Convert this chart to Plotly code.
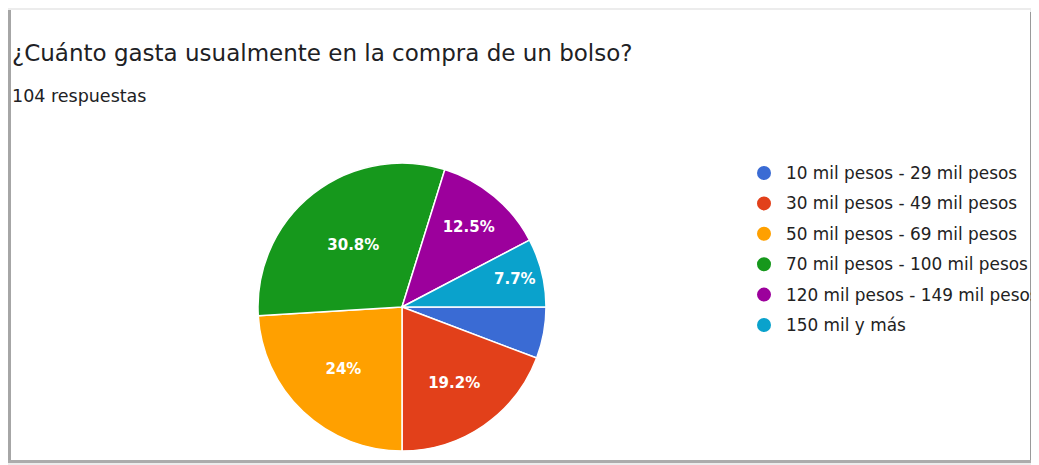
import plotly.graph_objects as go

# Survey data (104 responses)
labels = [
    "10 mil pesos - 29 mil pesos",
    "30 mil pesos - 49 mil pesos",
    "50 mil pesos - 69 mil pesos",
    "70 mil pesos - 100 mil pesos",
    "120 mil pesos - 149 mil pesos",
    "150 mil y más",
]
counts = [6, 20, 25, 32, 13, 8]
colors = ["#3a6bd4", "#e2401a", "#ffa000", "#16981c", "#9c009c", "#0aa2cc"]

title = "¿Cuánto gasta usualmente en la compra de un bolso?"
subtitle = f"{sum(counts)} respuestas"

# the page body has an 8px margin, so the figure starts at (8, 8) on screen
OFF = 8
W, H = 1039 - OFF, 465 - OFF


def px(x):
    # screen x -> paper
    return (x - OFF) / W


def py(y):
    # screen y -> paper
    return 1 - (y - OFF) / H


def box(x0, y0, x1, y1, color):
    return dict(type="rect", xref="paper", yref="paper", x0=px(x0), x1=px(x1),
                y0=py(y1), y1=py(y0), fillcolor=color, line_width=0, layer="below")


# percent labels, small slices get no label (like Google Forms)
total = sum(counts)
pct_text = []
for c in counts:
    p = round(c / total * 100, 1)
    pct_text.append("" if p < 7 else f"{p:g}%")

fig = go.Figure(go.Pie(
    labels=labels,
    values=counts,
    text=pct_text,
    textinfo="text",
    textposition="inside",
    insidetextorientation="horizontal",
    textfont=dict(family="DejaVu Sans", size=15, color="white", weight="bold"),
    marker=dict(colors=colors, line=dict(color="white", width=1.5)),
    sort=False,
    direction="clockwise",
    rotation=90,
    domain=dict(x=[px(258), px(546)], y=[py(451), py(163)]),
    showlegend=False,
    hoverinfo="label+percent",
))

# frame of the screenshot
shapes = [
    box(8, 8, 1039, 465, "#ececec"),
    box(8, 10, 11, 462, "#a6a6a6"),
    box(1034, 12, 1039, 465, "#c6c6c6"),
    box(1030, 12, 1035, 463, "#9a9a9a"),
    box(8, 460, 1034, 463, "#acacac"),
    box(11, 10, 1030, 460, "white"),
]

annotations = [
    dict(text=title, x=px(10), y=py(53), xref="paper", yref="paper",
         xanchor="left", yanchor="middle", showarrow=False,
         font=dict(family="DejaVu Sans", size=23, color="#202124")),
    dict(text=subtitle, x=px(10), y=py(96), xref="paper", yref="paper",
         xanchor="left", yanchor="middle", showarrow=False,
         font=dict(family="DejaVu Sans", size=17.5, color="#202124")),
]

# legend drawn by hand to get Google Forms row spacing
for i, (lab, col) in enumerate(zip(labels, colors)):
    yy = 173 + 30.4 * i
    shapes.append(dict(type="circle", xref="paper", yref="paper",
                       x0=px(757), x1=px(771), y0=py(yy + 7), y1=py(yy - 7),
                       fillcolor=col, line_width=0))
    annotations.append(dict(text=lab, x=px(784), y=py(yy), xref="paper", yref="paper",
                            xanchor="left", yanchor="middle", showarrow=False,
                            font=dict(family="DejaVu Sans", size=16.9, color="#222222")))

fig.update_layout(
    width=W,
    height=H,
    margin=dict(l=0, r=0, t=0, b=0),
    paper_bgcolor="white",
    shapes=shapes,
    annotations=annotations,
)

fig.write_html("out.html")
